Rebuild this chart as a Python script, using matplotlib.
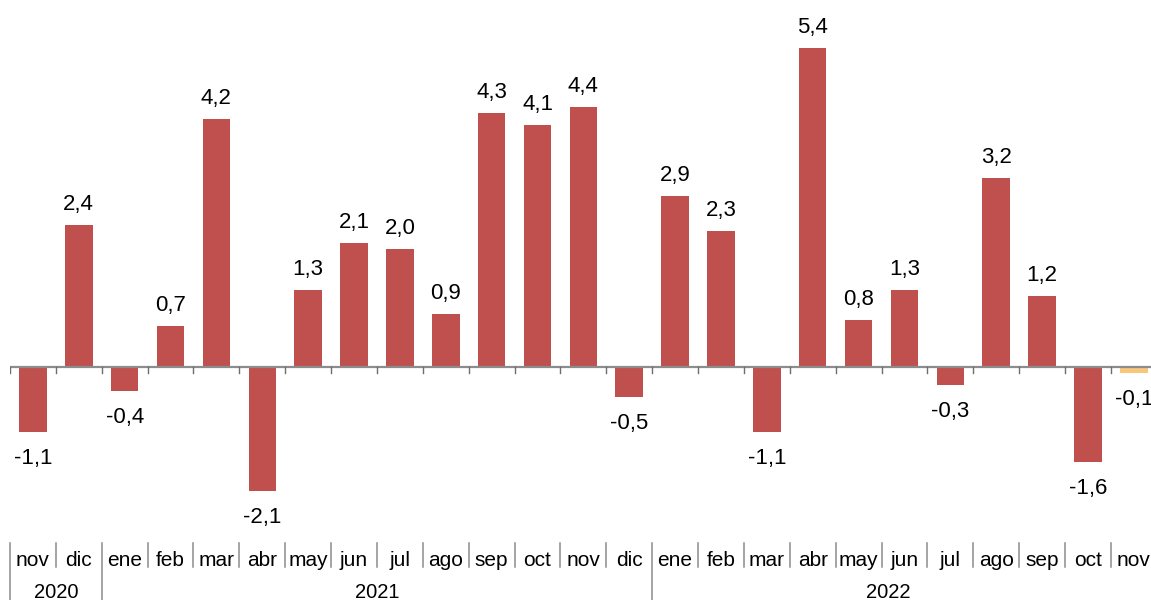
import matplotlib
matplotlib.use("Agg")
import matplotlib.pyplot as plt
from matplotlib import transforms

months = ["nov", "dic", "ene", "feb", "mar", "abr", "may", "jun", "jul", "ago", "sep", "oct", "nov",
          "dic", "ene", "feb", "mar", "abr", "may", "jun", "jul", "ago", "sep", "oct", "nov"]
values = [-1.1, 2.4, -0.4, 0.7, 4.2, -2.1, 1.3, 2.1, 2.0, 0.9, 4.3, 4.1, 4.4,
          -0.5, 2.9, 2.3, -1.1, 5.4, 0.8, 1.3, -0.3, 3.2, 1.2, -1.6, -0.1]
years = ["2020", "2021", "2022"]
year_counts = [2, 12, 11]

plt.rcParams['font.family'] = ['Liberation Sans', 'DejaVu Sans']

W, H = 1151, 600
fig = plt.figure(figsize=(W / 100, H / 100), dpi=100)
slot = 45.87
left_px = 10
ax = fig.add_axes([left_px / W, 0, 1 - left_px / W, 1])
n = len(values)
xmax = -0.5 + (W - left_px) / slot
ax.set_xlim(-0.5, xmax)
ppu = 59.07
zero_px = 367
ax.set_ylim(-(H - zero_px) / ppu, zero_px / ppu)
ax.axis('off')

colors = ["#C0504D"] * (n - 1) + ["#F8C67C"]
x = list(range(n))
ax.bar(x, values, width=0.6, color=colors, zorder=2)

# zero axis line
ax.plot([-0.5, xmax], [0, 0], color="#8c8c8c", lw=1.6, zorder=3, solid_capstyle='butt')
tick_len = 6 / ppu
for b in range(n):
    ax.plot([b - 0.5, b - 0.5], [0, -tick_len], color="#6e6e6e", lw=1.0, zorder=3)

# data labels
for xi, v in zip(x, values):
    lab = f"{v:.1f}".replace(".", ",")
    if v >= 0:
        ax.annotate(lab, (xi, v), xytext=(0, 15), textcoords='offset pixels',
                    ha='center', va='baseline', fontsize=16, color='black')
    else:
        ax.annotate(lab, (xi, v), xytext=(0, -16), textcoords='offset pixels',
                    ha='center', va='top', fontsize=16, color='black')

# category axis labels
trans = transforms.blended_transform_factory(ax.transData, fig.transFigure)
def fy(px):
    return 1 - px / H

for i, m in enumerate(months):
    ax.text(i, fy(566), m, transform=trans, ha='center', va='baseline', fontsize=15, color='black')

year_starts = []
s = 0
for c in year_counts:
    year_starts.append(s)
    s += c
for b in range(n):
    is_year = b in year_starts
    bottom = H if is_year else 567
    ax.plot([b - 0.5, b - 0.5], [fy(543), fy(bottom)], transform=trans, color="#8c8c8c", lw=1.1,
            clip_on=False)

for yr, st, c in zip(years, year_starts, year_counts):
    end = min(st + c - 0.5, 23.78)
    cx = (st - 0.5 + end) / 2
    ax.text(cx, fy(598), yr, transform=trans, ha='center', va='baseline', fontsize=14.5, color='black')

fig.savefig("out.png", dpi=100)
